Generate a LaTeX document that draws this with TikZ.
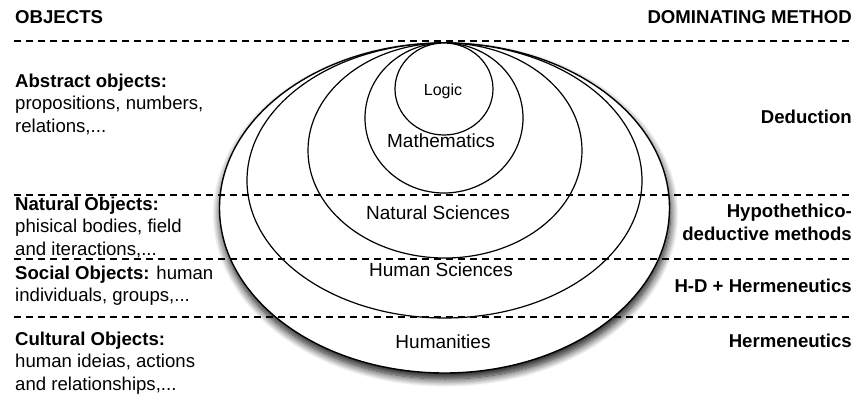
\documentclass[tikz,border=0pt]{standalone}
\usepackage{fontspec}
\setmainfont{Liberation Sans}
\usetikzlibrary{shadows.blur}

\tikzset{
  txt/.style={font=\fontsize{18.6}{22.3}\selectfont, inner sep=0pt},
  lefttxt/.style={txt, align=left, anchor=base west},
  righttxt/.style={txt, align=right, anchor=base east, font=\fontsize{18.6}{22.3}\selectfont\bfseries},
  field/.style={font=\fontsize{19}{22}\selectfont, inner sep=0pt, anchor=base},
  area/.style={draw, line width=1.2pt, fill=white},
  sep/.style={dash pattern=on 6.5pt off 5.5pt, line width=1.1pt}
}

\begin{document}
\begin{tikzpicture}[x=1pt,y=-1pt]
  \useasboundingbox (0,0) rectangle (855,396);

  % nested fields
  \draw[area, line width=1.4pt, blur shadow={shadow xshift=1pt, shadow yshift=-6pt,
        shadow blur radius=8pt, shadow blur steps=12, shadow opacity=95}]
        (444.5,208) ellipse (225pt and 165pt);
  \draw[area] (444.5,180.5) ellipse (197.5pt and 137.5pt);
  \draw[area] (445,150.5) ellipse (137pt and 107.5pt);
  \draw[area] (444,118) ellipse (79pt and 75pt);
  \draw[area] (444,89) ellipse (49pt and 46pt);

  % separators
  \foreach \y in {41,195,259,317}
    \draw[sep] (14,\y) -- (853,\y);

  % headers
  \node[lefttxt, font=\fontsize{18.6}{22.3}\selectfont\bfseries] (objects) at (15,24) {OBJECTS};
  \node[righttxt] (method) at (852,24) {DOMINATING METHOD};

  % objects (anchored on the baseline of the last line)
  \node[lefttxt] (abstract) at (15,132) {\textbf{Abstract objects:}\\propositions, numbers,\\relations,...};
  \node[lefttxt] (natural) at (15,255) {\textbf{Natural Objects:}\\phisical bodies, field\\and iteractions,...};
  \node[lefttxt] (social) at (15,301.5) {\textbf{Social Objects:} human\\individuals, groups,...};
  \node[lefttxt] (cultural) at (15,390) {\textbf{Cultural Objects:}\\human ideias, actions\\and relationships,...};

  % fields of knowledge
  \node[field, font=\fontsize{16}{19}\selectfont] (logic) at (443,95.7) {Logic};
  \node[field] (maths) at (441,147.7) {Mathematics};
  \node[field] (natsci) at (438,219) {Natural Sciences};
  \node[field] (humsci) at (441,276) {Human Sciences};
  \node[field] (humanities) at (443,348) {Humanities};

  % methods
  \node[righttxt] (deduction) at (852,124) {Deduction};
  \node[righttxt] (hypodeduct) at (852,240) {Hypothethico-\\deductive methods};
  \node[righttxt] (hdherm) at (852,292) {H-D + Hermeneutics};
  \node[righttxt] (herm) at (852,347) {Hermeneutics};
\end{tikzpicture}
\end{document}
